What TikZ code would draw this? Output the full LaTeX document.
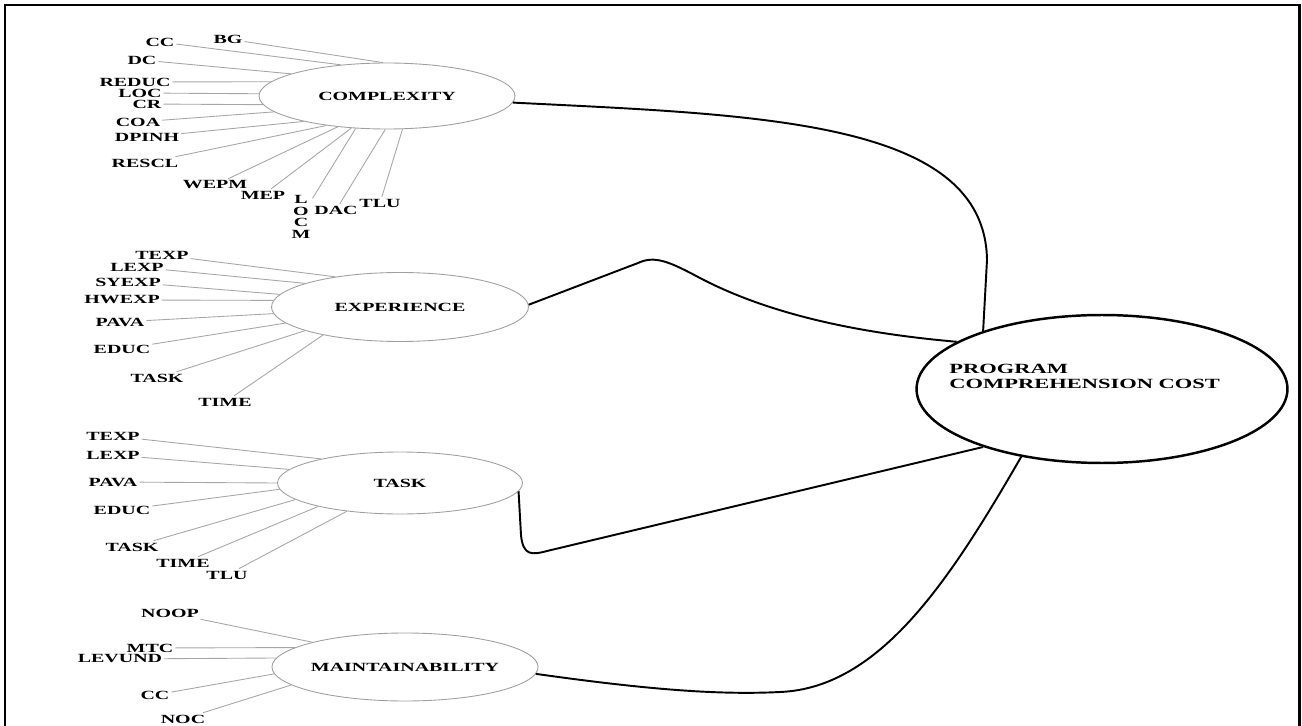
\documentclass[tikz,border=0pt]{standalone}
\usepackage{fontspec}
\usepackage{tikz}
\usetikzlibrary{shapes.geometric}
\newfontfamily\metricfont{Liberation Serif}[FakeStretch=1.6]
\newcommand{\lblfont}{\metricfont\bfseries\fontsize{7.1}{8.5}\selectfont}
\newcommand{\costfont}{\metricfont\bfseries\fontsize{8}{8.5}\selectfont}

\begin{document}
\begin{tikzpicture}[x=0.02cm, y=-0.02cm,
    factor/.style={ellipse, draw=gray!75, line width=0.5pt, inner sep=0pt, font=\lblfont},
    metric/.style={inner sep=1pt, font=\lblfont},
    spoke/.style={draw=gray!70, line width=0.5pt},
    link/.style={draw=black, line width=1.1pt}]

    \useasboundingbox (0,0) rectangle (1302,726);
    \clip (0,0) rectangle (1302,726);

    % Frame
    \draw[line width=1.7pt] (5,740) -- (5,5) -- (1299,5) -- (1299,740);

    % Factor ellipses
    \node[factor, minimum width=5.12cm, minimum height=1.32cm] (cx) at (387,96) {COMPLEXITY};
    \node[factor, minimum width=5.14cm, minimum height=1.38cm] (ex) at (400,307) {EXPERIENCE};
    \node[factor, minimum width=4.90cm, minimum height=1.24cm] (tk) at (400,483) {TASK};
    \node[factor, minimum width=5.18cm, minimum height=1.36cm] (mt) at (405,667) {MAINTAINABILITY};

    % Cost ellipse
    \node[ellipse, draw, line width=1.4pt, minimum width=7.42cm, minimum height=2.96cm] (pcc) at (1102,389) {};
    \node[anchor=west, align=left, inner sep=0pt, font=\costfont] (pcctxt) at (949,376) {PROGRAM\\COMPREHENSION COST};

    % Complexity metrics
    \foreach \txt/\x/\y/\ang [count=\i] in {BG/228/39/97, CC/160/42/146, DC/142/60/167,
        REDUC/135/82/173, LOC/140/93/179, CR/147/104/184, COA/138/122/188,
        DPINH/147/137/197, RESCL/145/163/206, WEPM/215/185/212, MEP/263/195/222,
        DAC/336/210/267, TLU/380/203/295} {
        \node[metric] (cm\i) at (\x,\y) {\txt};
        \draw[spoke] (cm\i) -- (cx.\ang);
    }
    \node[metric, align=center, font=\metricfont\bfseries\fontsize{7.1}{6.6}\selectfont] (locm) at (301,217) {L\\O\\C\\M};
    \draw[spoke] (locm) -- (cx.226);

    % Experience metrics
    \foreach \txt/\x/\y/\ang [count=\i] in {TEXP/162/255/155, LEXP/137/267/166,
        SYEXP/128/282/174, HWEXP/122/300/177, PAVA/120/322/183, EDUC/122/349/188,
        TASK/157/378/194, TIME/225/402/200} {
        \node[metric] (em\i) at (\x,\y) {\txt};
        \draw[spoke] (em\i) -- (ex.\ang);
    }

    % Task metrics
    \foreach \txt/\x/\y/\ang [count=\i] in {TEXP/113/436/163, LEXP/113/455/173,
        PAVA/113/482/180, EDUC/122/510/183, TASK/132/547/189, TIME/183/563/196,
        TLU/227/575/208} {
        \node[metric] (tm\i) at (\x,\y) {\txt};
        \draw[spoke] (tm\i) -- (tk.\ang);
    }

    % Maintainability metrics
    \foreach \txt/\x/\y/\ang [count=\i] in {NOOP/170/613/165, MTC/150/648/170,
        LEVUND/120/659/176, CC/155/695/183, NOC/183/719/189} {
        \node[metric] (mm\i) at (\x,\y) {\txt};
        \draw[spoke] (mm\i) -- (mt.\ang);
    }

    % Links to the cost
    \draw[link] (cx.-3) .. controls (760,115) and (985,120) .. (987,260) -- (pcc.154);
    \draw[link] (ex.1) -- (638,263) .. controls (655,255) and (670,262) .. (700,278)
        .. controls (780,320) and (880,335) .. (pcc.162);
    \draw[link] (tk.-4) -- (521,535) .. controls (523,556) and (532,555) .. (547,551) -- (pcc.206);
    \draw[link] (mt.-3) .. controls (650,690) and (720,695) .. (780,692)
        .. controls (880,688) and (950,580) .. (pcc.220);
\end{tikzpicture}
\end{document}
